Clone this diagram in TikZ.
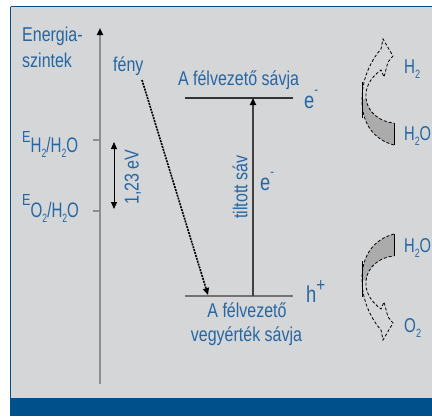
\documentclass[tikz,border=0pt]{standalone}
\usepackage{fontspec}
\setmainfont{Liberation Sans}[FakeStretch=0.8]
\usepackage{graphicx}
\usetikzlibrary{arrows.meta}
\definecolor{bg}{HTML}{D5D6D8}
\definecolor{txt}{HTML}{2566A3}
\definecolor{bar}{HTML}{00508C}
\definecolor{axisgrey}{HTML}{8C8D8F}
\definecolor{fillgrey}{HTML}{ABABAB}
\newcommand\lsub[1]{\raisebox{-0.5ex}{\fontsize{12}{12}\selectfont #1}}
\newcommand\lsup[1]{\raisebox{1.1ex}{\fontsize{14}{14}\selectfont #1}}
\newcommand\lsupbig[1]{\raisebox{0.9ex}{\fontsize{19}{19}\selectfont #1}}
\newcommand\splitarrowshape{%
  \fill[fillgrey] (362,100) .. controls (362,125) and (375,140) .. (394,145) -- (394,123) .. controls (380,122) and (367,112) .. (366,98) -- cycle;
  \draw[black, line width=0.8pt, densely dashed] (394,145) .. controls (375,140) and (362,125) .. (362,100) .. controls (362,76) and (373,58) .. (381,49) -- (383,39) -- (393,56) -- (388,62) -- (384,77) -- (381,70) .. controls (370,78) and (365,88) .. (366,98) .. controls (367,112) and (380,122) .. (394,123);
  \draw[black, line width=1pt] (394,123) -- (394,145);
  \draw[black, line width=0.9pt] (362,82) -- (362,118);
}
\begin{document}
\begin{tikzpicture}[x=1pt,y=-1pt,
  lbl/.style={text=txt, inner sep=0pt, font=\fontsize{20}{22}\selectfont},
  big/.style={text=txt, inner sep=0pt, font=\fontsize{23}{25}\selectfont},
  axisline/.style={axisgrey, line width=2pt},
  tick/.style={axisgrey, line width=1.2pt},
  bandtop/.style={black!80, line width=2pt},
  bandbot/.style={black!55, line width=1.5pt},
  tip/.style={-{Triangle[width=6pt,length=7pt,black]}},
]
\useasboundingbox (0,0) rectangle (432,416);
\fill[white] (0,0) rectangle (432,416);
\fill[bg] (10,6) rectangle (432,398);
\fill[bar] (10,398) rectangle (432,416);
\draw[bar, line width=1.2pt] (10.5,6.5) -- (432,6.5);
\draw[bar, line width=1.2pt] (10.5,6.5) -- (10.5,416);

% energy axis
\coordinate (axb) at (100,384);
\coordinate (axt) at (100,28);
\draw[axisline, tip] (axb) -- (axt);
\coordinate (t1a) at (93,140); \coordinate (t1b) at (100,140);
\coordinate (t2a) at (93,211); \coordinate (t2b) at (100,211);
\draw[tick] (t1a) -- (t1b);
\draw[tick] (t2a) -- (t2b);

% 1.23 eV double arrow
\coordinate (d1) at (114,142);
\coordinate (d2) at (114,209);
\draw[black, line width=1pt, {Triangle[width=6pt,length=7pt]}-{Triangle[width=6pt,length=7pt]}] (d1) -- (d2);

% bands
\coordinate (cbL) at (185,98); \coordinate (cbR) at (293,98);
\coordinate (vbL) at (185,296); \coordinate (vbR) at (293,296);
\draw[bandtop] (cbL) -- (cbR);
\draw[bandbot] (vbL) -- (vbR);
\coordinate (ve1) at (253,296); \coordinate (ve2) at (253,98);
\draw[black!75, line width=1.6pt, tip] (ve1) -- (ve2);

% light arrow
\coordinate (l1) at (142,80); \coordinate (l2) at (208,295);
\draw[black, line width=1.6pt, dash pattern=on 2pt off 1pt, tip] (l1) -- (l2);

% labels
\node[lbl, anchor=base west] (en1) at (22,41.5) {Energia-};
\node[lbl, anchor=base west] (en2) at (22,67) {szintek};
\node[lbl, anchor=base west] (feny) at (113,71.5) {fény};
\node[lbl, anchor=base] (cb) at (238.5,85) {A félvezető sávja};
\node[lbl, anchor=base] (vb1) at (247,317) {A félvezető};
\node[lbl, anchor=base] (vb2) at (246.5,341.7) {vegyérték sávja};
\node[lbl, rotate=90] (gap) at (240,187) {tiltott sáv};
\node[lbl, rotate=90] (ev) at (133,177) {1,23 eV};
\node[big, anchor=base west] (e1) at (304,108) {e\lsup{-}};
\node[big, anchor=base west] (e2) at (260,190) {e\lsup{-}};
\node[big, anchor=base west] (hp) at (306,302) {h\lsupbig{+}};
\node[lbl, anchor=base west] (eh) at (22,152) {\raisebox{10pt}{\fontsize{16}{16}\selectfont E}\scalebox{0.9}[1]{\fontsize{21}{21}\selectfont H\lsub{2}/H\lsub{2}O}};
\node[lbl, anchor=base west] (eo) at (22,217) {\raisebox{12pt}{\fontsize{16}{16}\selectfont E}\scalebox{0.9}[1]{\fontsize{21}{21}\selectfont O\lsub{2}/H\lsub{2}O}};

% right side reactions
\splitarrowshape
\begin{scope}[shift={(0,379)}, yscale=-1]
\splitarrowshape
\end{scope}
\node[lbl, anchor=base west] (h2) at (404,73) {\scalebox{0.95}[1]{H\lsub{2}}};
\node[lbl, anchor=base west] (w1) at (404,140) {\scalebox{0.92}[1]{H\lsub{2}O}};
\node[lbl, anchor=base west] (w2) at (404,252) {\scalebox{0.92}[1]{H\lsub{2}O}};
\node[lbl, anchor=base west] (o2) at (404,332) {\scalebox{0.95}[1]{O\lsub{2}}};
\end{tikzpicture}
\end{document}
